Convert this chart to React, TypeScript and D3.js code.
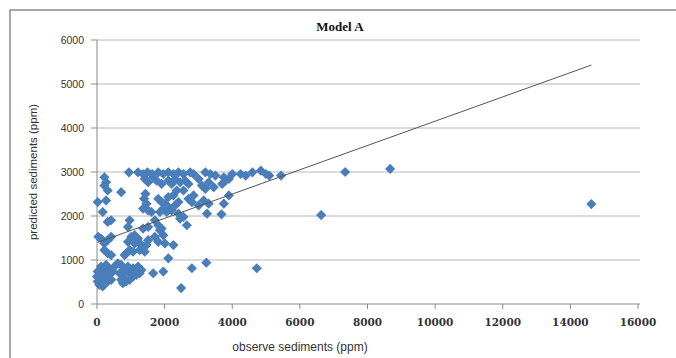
import * as d3 from 'd3';

// observed (x) / predicted (y) sediment pairs, ppm
const observed = [
  945, 1214, 1363, 1493, 1632, 1811, 1960, 2109, 2259, 2408, 2557, 2756, 2856, 3204, 3353, 3502, 3751, 4000,
  4249, 4398, 4597, 4846, 4995, 5094, 5443,
  219, 269, 219, 318, 1413, 1512, 1662, 1761, 1910, 2109, 2209, 2308, 2458, 2607, 2706, 3005, 3104, 3303,
  3453, 3701, 3801, 3900, 3204, 716, 269,
  20, 1433, 1393, 1463, 1363, 1512, 1612, 1811, 1910, 2010, 2109, 1960, 1861, 2060, 2209, 2308, 2408, 2109,
  2259, 2358, 2557, 2706, 2856, 2806, 3005, 3154, 3303, 3751, 3900, 3254, 3682, 2408, 2557, 169, 318, 418,
  965, 915, 1711, 1811, 1910, 1512, 1363, 2458, 2657,
  40, 119, 219, 318, 418, 915, 1015, 1114, 1214, 1264, 1363, 1463, 1114, 965, 866, 816, 1065, 1264, 1413,
  1512, 1861, 1711, 1811, 2010, 1960, 2259, 219, 318, 418, 2109,
  0, 20, 70, 119, 169, 219, 269, 318, 368, 418, 468, 119, 20, 219, 318, 169, 517, 617, 716, 766, 667, 866,
  915, 965, 1065, 1114, 1214, 1264, 716, 766, 816, 866, 965, 1065, 1164, 1313, 1662, 1960, 2806, 3234, 4726,
  2488,
  7340, 8670, 6630, 14620,
];
const predicted = [
  2993, 2993, 2955, 2993, 2955, 2993, 2955, 2993, 2955, 2993, 2955, 2993, 2955, 2993, 2955, 2918, 2880, 2955,
  2955, 2918, 2993, 3031, 2955, 2918, 2918,
  2880, 2767, 2692, 2579, 2843, 2767, 2880, 2805, 2730, 2805, 2730, 2843, 2767, 2805, 2730, 2843, 2692, 2767,
  2655, 2730, 2805, 2843, 2617, 2542, 2354,
  2316, 2504, 2391, 2279, 2166, 2128, 2091, 2391, 2316, 2279, 2203, 2166, 2091, 2091, 2128, 2241, 2316, 2429,
  2467, 2579, 2579, 2391, 2467, 2316, 2241, 2354, 2279, 2279, 2467, 2053, 2038, 2053, 1978, 2091, 1865, 1903,
  1903, 1752, 1903, 1790, 1715, 1752, 1715, 1940, 1790,
  1527, 1489, 1376, 1451, 1527, 1414, 1527, 1564, 1489, 1376, 1301, 1339, 1376, 1226, 1151, 1113, 1188, 1226,
  1188, 1451, 1677, 1527, 1414, 1376, 1564, 1339, 1226, 1151, 1113, 1038,
  624, 511, 436, 549, 699, 775, 887, 812, 662, 549, 737, 850, 737, 624, 511, 399, 850, 925, 887, 737, 699,
  775, 850, 699, 812, 737, 850, 699, 549, 474, 587, 511, 549, 624, 662, 775, 699, 737, 812, 940, 812,
  361,
  3000, 3070, 2020, 2270,
];

// linear trend line end points
const trendX = [20, 14620];
const trendY = [1400, 5430];

const xTicks = [0, 2000, 4000, 6000, 8000, 10000, 12000, 14000, 16000];
const yTicks = [0, 1000, 2000, 3000, 4000, 5000, 6000];

const W = 676;
const H = 358;
const plot = { left: 97, right: 638, top: 40, bottom: 304 };

export default function App() {
  const x = d3.scaleLinear().domain([0, 16000]).range([plot.left, plot.right]);
  const y = d3.scaleLinear().domain([0, 6000]).range([plot.bottom, plot.top]);

  const points = observed.map((v, i) => ({ ox: v, py: predicted[i] }));
  // Excel style marker: a square turned 45 degrees
  const marker = d3.symbol(d3.symbolSquare, 52)();
  const trend = d3.line<number>()
    .x((d) => x(d))
    .y((_, i) => y(trendY[i]));

  return (
    <div style={{ position: 'absolute', left: 0, top: 0 }}>
      <svg width={W} height={H} style={{ display: 'block', background: '#fff' }}>
        {/* chart frame */}
        <rect x={10} y={10} width={720} height={420} fill="none" stroke="#8c8c8c" strokeWidth={1.5} />

        <text x={340} y={31} textAnchor="middle" fontFamily="Liberation Serif" fontWeight="bold"
          fontSize={13} fill="#111">Model A</text>

        {/* gridlines */}
        {yTicks.filter((t) => t > 0).map((t) => (
          <line key={t} x1={plot.left} x2={plot.right + 2} y1={y(t)} y2={y(t)} stroke="#b8b8b8" strokeWidth={1} />
        ))}

        {/* axes */}
        <line x1={plot.left} x2={plot.left} y1={plot.top} y2={plot.bottom} stroke="#8a8a8a" />
        <line x1={plot.left} x2={plot.right + 2} y1={plot.bottom} y2={plot.bottom} stroke="#8a8a8a" />
        {yTicks.map((t) => (
          <g key={t}>
            <line x1={plot.left - 6} x2={plot.left} y1={y(t)} y2={y(t)} stroke="#8a8a8a" />
            <text x={84} y={y(t) + 3.5} textAnchor="end" fontFamily="Liberation Sans" fontSize={10.5}
              fill="#333">{t}</text>
          </g>
        ))}
        {xTicks.map((t) => (
          <g key={t}>
            <line x1={x(t)} x2={x(t)} y1={plot.bottom} y2={plot.bottom + 5} stroke="#8a8a8a" />
            <text x={x(t)} y={plot.bottom + 22} textAnchor="middle" fontFamily="DejaVu Serif"
              fontWeight="bold" fontSize={10.5} fill="#333">{t}</text>
          </g>
        ))}

        {/* axis titles */}
        <text x={300} y={351} textAnchor="middle" fontFamily="Liberation Sans" fontSize={12}
          fill="#333">observe sediments (ppm)</text>
        <text transform="translate(37,172) rotate(-90)" textAnchor="middle" fontFamily="Liberation Sans"
          fontSize={11.5} fill="#333">predicted sediments (ppm)</text>

        {/* points */}
        {points.map((p, i) => (
          <path key={i} d={marker ?? ''} transform={`translate(${x(p.ox)},${y(p.py)}) rotate(45)`}
            fill="#4a7ebb" />
        ))}

        {/* trend */}
        <path d={trend(trendX) ?? ''} fill="none" stroke="#555" strokeWidth={1} />
      </svg>
    </div>
  );
}
